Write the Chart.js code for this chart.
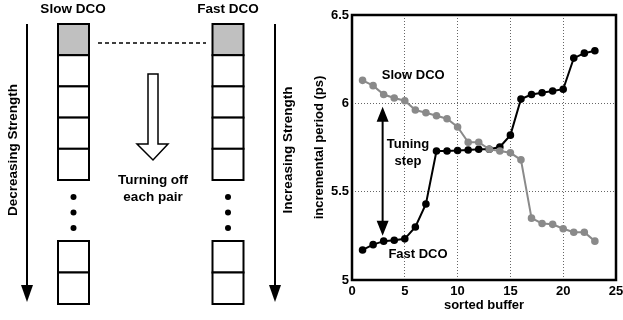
<!DOCTYPE html>
<html>
<head>
<meta charset="utf-8">
<script src="https://cdn.jsdelivr.net/npm/chart.js@4.4.1/dist/chart.umd.min.js"></script>
<style>
  html, body { margin: 0; padding: 0; background: #fff; }
  #wrap { width: 623px; height: 320px; position: relative; }
</style>
</head>
<body>
<div id="wrap"><canvas id="dcoChart"></canvas></div>
<script>
// sorted buffer index
const bufferIdx = [1, 2, 3, 4, 5, 6, 7, 8, 9, 10, 11, 12, 13, 14, 15, 16, 17, 18, 19, 20, 21, 22, 23];
// incremental period (ps)
const fastDco = [5.17, 5.20, 5.22, 5.225, 5.233, 5.30, 5.43, 5.73, 5.73, 5.733, 5.736, 5.74,
                 5.74, 5.753, 5.82, 6.024, 6.05, 6.06, 6.07, 6.08, 6.256, 6.284, 6.298];
const slowDco = [6.13, 6.10, 6.05, 6.03, 6.015, 5.962, 5.947, 5.93, 5.913, 5.866, 5.78, 5.78,
                 5.74, 5.73, 5.72, 5.68, 5.35, 5.32, 5.315, 5.29, 5.27, 5.27, 5.22];
const xTicks = [0, 5, 10, 15, 20, 25];
const yTicks = [5, 5.5, 6, 6.5];

const FONT = 'Arial, "Liberation Sans", sans-serif';

function toPoints(ys) {
    return bufferIdx.map((x, i) => ({ x: x, y: ys[i] }));
}

// left side: buffer diagram
function drawDiagram(ctx) {
    ctx.save();
    ctx.fillStyle = '#000';
    ctx.strokeStyle = '#000';
    ctx.font = 'bold 13.5px ' + FONT;
    ctx.textAlign = 'center';
    ctx.textBaseline = 'middle';
    ctx.fillText('Slow DCO', 73, 9);
    ctx.fillText('Fast DCO', 228, 9);

    const cols = [58, 212.5];
    const w = 31, h = 31.2;
    cols.forEach(cx => {
        ctx.lineWidth = 2;
        for (let i = 0; i < 5; i++) {
            const y = 24 + i * h;
            ctx.fillStyle = i === 0 ? '#c0c0c0' : '#fff';
            ctx.fillRect(cx, y, w, h);
            ctx.strokeRect(cx, y, w, h);
        }
        for (let i = 0; i < 2; i++) {
            ctx.fillStyle = '#fff';
            ctx.fillRect(cx, 241 + i * 31.5, w, 31.5);
            ctx.strokeRect(cx, 241 + i * 31.5, w, 31.5);
        }
        ctx.fillStyle = '#000';
        [197, 212.5, 228].forEach(dy => {
            ctx.beginPath();
            ctx.arc(cx + w / 2, dy, 3, 0, Math.PI * 2);
            ctx.fill();
        });
    });

    // dashed link between the gray cells
    ctx.lineWidth = 1.5;
    ctx.setLineDash([4, 3]);
    ctx.beginPath();
    ctx.moveTo(98, 43);
    ctx.lineTo(206, 43);
    ctx.stroke();
    ctx.setLineDash([]);

    // long strength arrows
    [27, 275].forEach(ax => {
        ctx.lineWidth = 2;
        ctx.beginPath();
        ctx.moveTo(ax, 24);
        ctx.lineTo(ax, 288);
        ctx.stroke();
        ctx.beginPath();
        ctx.moveTo(ax - 6, 285);
        ctx.lineTo(ax + 6, 285);
        ctx.lineTo(ax, 302);
        ctx.closePath();
        ctx.fill();
    });

    // hollow arrow
    ctx.lineWidth = 1.5;
    ctx.fillStyle = '#fff';
    ctx.beginPath();
    ctx.moveTo(148, 74);
    ctx.lineTo(158, 74);
    ctx.lineTo(158, 144);
    ctx.lineTo(168, 144);
    ctx.lineTo(153, 160);
    ctx.lineTo(137, 144);
    ctx.lineTo(148, 144);
    ctx.closePath();
    ctx.fill();
    ctx.stroke();

    ctx.fillStyle = '#000';
    ctx.fillText('Turning off', 153, 180);
    ctx.fillText('each pair', 153, 197);

    ctx.save();
    ctx.translate(13, 150);
    ctx.rotate(-Math.PI / 2);
    ctx.fillText('Decreasing Strength', 0, 0);
    ctx.restore();
    ctx.save();
    ctx.translate(288, 150);
    ctx.rotate(-Math.PI / 2);
    ctx.fillText('Increasing Strength', 0, 0);
    ctx.restore();
    ctx.restore();
}

const extrasPlugin = {
    id: 'extras',
    afterDraw(chart) {
        const ctx = chart.ctx;
        const xs = chart.scales.x, ys = chart.scales.y;
        const a = chart.chartArea;
        drawDiagram(ctx);

        ctx.save();
        // plot frame
        ctx.strokeStyle = '#000';
        ctx.lineWidth = 2.5;
        ctx.strokeRect(a.left, a.top, a.right - a.left, a.bottom - a.top);

        // annotations
        ctx.fillStyle = '#000';
        ctx.font = 'bold 13px ' + FONT;
        ctx.textAlign = 'center';
        ctx.textBaseline = 'middle';
        ctx.fillText('Slow DCO', xs.getPixelForValue(5.8), ys.getPixelForValue(6.16));
        ctx.fillText('Tuning', xs.getPixelForValue(5.3), ys.getPixelForValue(5.77));
        ctx.fillText('step', xs.getPixelForValue(5.3), ys.getPixelForValue(5.67));
        ctx.fillText('Fast DCO', xs.getPixelForValue(6.25), ys.getPixelForValue(5.147));

        // tuning step double arrow
        const ax = xs.getPixelForValue(2.9);
        const top = ys.getPixelForValue(5.98);
        const bot = ys.getPixelForValue(5.25);
        ctx.strokeStyle = '#000';
        ctx.lineWidth = 2;
        ctx.beginPath();
        ctx.moveTo(ax, top + 8);
        ctx.lineTo(ax, bot - 8);
        ctx.stroke();
        ctx.beginPath();
        ctx.moveTo(ax, top);
        ctx.lineTo(ax - 6, top + 15);
        ctx.lineTo(ax + 6, top + 15);
        ctx.closePath();
        ctx.fill();
        ctx.beginPath();
        ctx.moveTo(ax, bot);
        ctx.lineTo(ax - 6, bot - 15);
        ctx.lineTo(ax + 6, bot - 15);
        ctx.closePath();
        ctx.fill();
        ctx.restore();
    }
};

const gridOpts = { color: '#666', lineWidth: 1, drawTicks: false };
const borderOpts = { display: false, dash: [1, 2] };
const tickFont = { family: FONT, size: 13, weight: 'bold' };

new Chart(document.getElementById('dcoChart'), {
    type: 'line',
    data: {
        datasets: [{
            label: 'Slow DCO',
            data: toPoints(slowDco),
            borderColor: '#8a8a8a',
            backgroundColor: '#8a8a8a',
            borderWidth: 2,
            pointRadius: 2.8,
            pointStyle: 'circle',
            tension: 0
        }, {
            label: 'Fast DCO',
            data: toPoints(fastDco),
            borderColor: '#000',
            backgroundColor: '#000',
            borderWidth: 2,
            pointRadius: 2.8,
            pointStyle: 'circle',
            tension: 0
        }]
    },
    options: {
        responsive: true,
        maintainAspectRatio: false,
        animation: false,
        layout: { padding: { left: 310, right: 7, top: 15, bottom: 2 } },
        plugins: {
            legend: { display: false },
            tooltip: { enabled: false }
        },
        scales: {
            x: {
                type: 'linear',
                min: 0,
                max: 25,
                afterBuildTicks: s => { s.ticks = xTicks.map(v => ({ value: v })); },
                afterFit: s => { s.height = 38; s.paddingRight = 0; s.paddingLeft = 0; },
                grid: gridOpts,
                border: borderOpts,
                ticks: { color: '#000', font: tickFont, padding: 4, maxRotation: 0 },
                title: { display: true, text: 'sorted buffer', color: '#000', font: tickFont, padding: { top: 0, bottom: 5 } }
            },
            y: {
                type: 'linear',
                min: 5,
                max: 6.5,
                afterBuildTicks: s => { s.ticks = yTicks.map(v => ({ value: v })); },
                afterFit: s => { s.width = 42; },
                grid: gridOpts,
                border: borderOpts,
                ticks: { color: '#000', font: tickFont, padding: 3, callback: v => String(v) },
                title: { display: true, text: 'incremental period (ps)', color: '#000', font: tickFont, padding: 2 }
            }
        }
    },
    plugins: [extrasPlugin]
});
</script>
</body>
</html>
